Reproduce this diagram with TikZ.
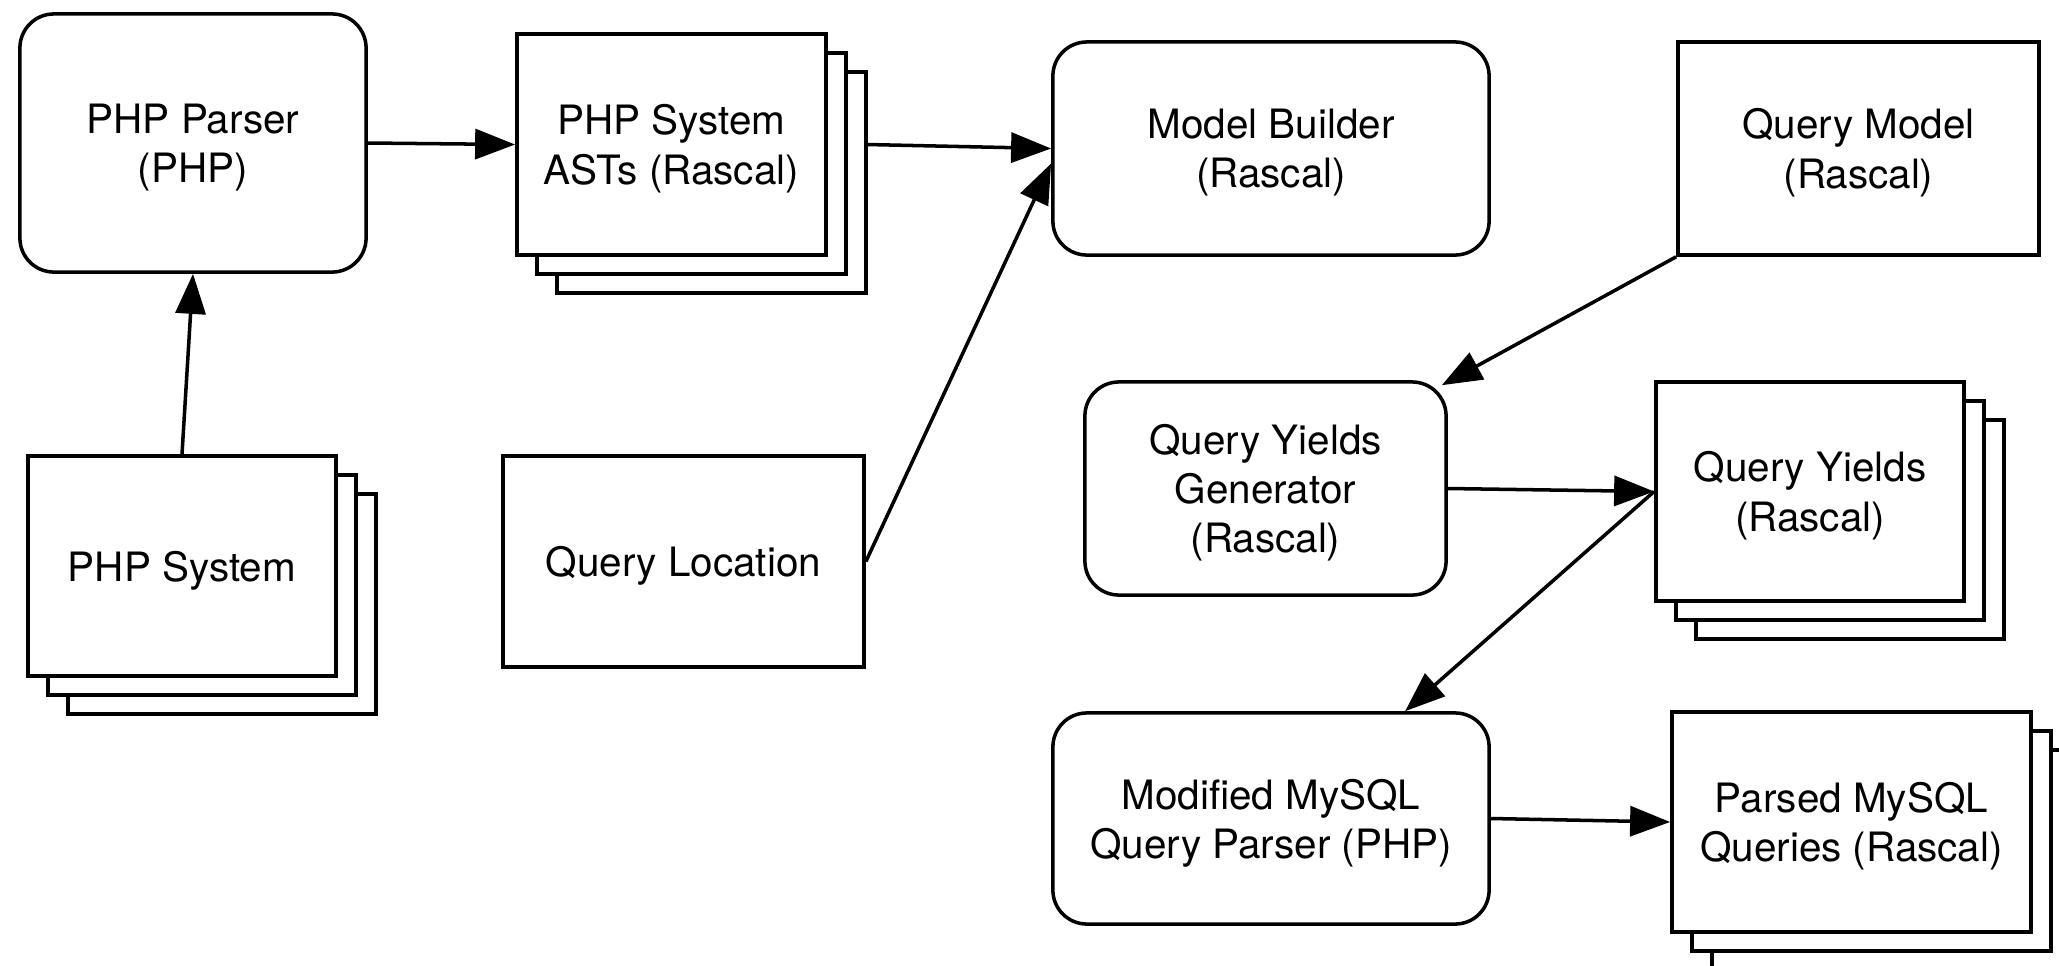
\documentclass[tikz,border=0pt]{standalone}
\usepackage{fontspec}
\setmainfont{TeX Gyre Heros}
\usetikzlibrary{arrows.meta, calc, shadows}

\begin{document}
\begin{tikzpicture}[x=0.01cm,y=-0.01cm, line width=1pt,
    box/.style={draw, rectangle, fill=white, align=center, inner sep=0pt, text depth=-0.8pt, font=\fontsize{11.5}{14}\selectfont},
    proc/.style={box, rounded corners=3.4mm},
    docs/.style={box,
        copy shadow={shadow xshift=4mm, shadow yshift=-3.8mm, draw=black, fill=white, line width=1pt},
        copy shadow={shadow xshift=2mm, shadow yshift=-1.9mm, draw=black, fill=white, line width=1pt}},
    flow/.style={-{Triangle[length=4mm, width=3mm]}}]
    \useasboundingbox (0,0) rectangle (2059,966);
    % top row
    \node[proc, minimum width=34.6mm, minimum height=25.8mm] (parser) at (193,143) {PHP Parser\\(PHP)};
    \node[docs, minimum width=30.9mm, minimum height=22.1mm] (asts) at (671.5,144.5) {PHP System\\ASTs (Rascal)};
    \node[proc, minimum width=43.6mm, minimum height=21.3mm] (builder) at (1271,148.5) {Model Builder\\(Rascal)};
    \node[box, minimum width=36.1mm, minimum height=21.3mm] (model) at (1858.5,148.5) {Query Model\\(Rascal)};
    % inputs
    \node[docs, minimum width=30.8mm, minimum height=22mm] (system) at (182,566) {PHP System};
    \node[box, minimum width=36.1mm, minimum height=21.1mm] (location) at (683.5,561.5) {Query Location};
    % yields and queries
    \node[proc, minimum width=36.1mm, minimum height=21.3mm] (generator) at (1265.5,488.5) {Query Yields\\Generator\\(Rascal)};
    \node[docs, minimum width=30.8mm, minimum height=21.9mm] (yields) at (1810,491.5) {Query Yields\\(Rascal)};
    \node[proc, minimum width=43.6mm, minimum height=21.1mm] (mysqlparser) at (1271,818.5) {Modified MySQL\\Query Parser (PHP)};
    \node[docs, minimum width=35.9mm, minimum height=22mm] (queries) at (1851.5,822) {Parsed MySQL\\Queries (Rascal)};
    % connectors
    \draw[flow] (parser.east) -- (asts.west);
    \draw[flow] ([xshift=3.9mm]asts.east) -- (builder.west);
    \draw[flow] (system.north) -- (parser.south);
    \draw[flow] (location.east) -- ([yshift=-1.5mm]builder.west);
    \draw[flow] (model.south west) -- ([xshift=-0.6mm,yshift=-0.5mm]generator.north east);
    \draw[flow] (generator.east) -- (yields.west);
    \draw[flow] (yields.west) -- ($(mysqlparser.north)!0.61!(mysqlparser.north east)$);
    \draw[flow] (mysqlparser.east) -- (queries.west);
\end{tikzpicture}
\end{document}
